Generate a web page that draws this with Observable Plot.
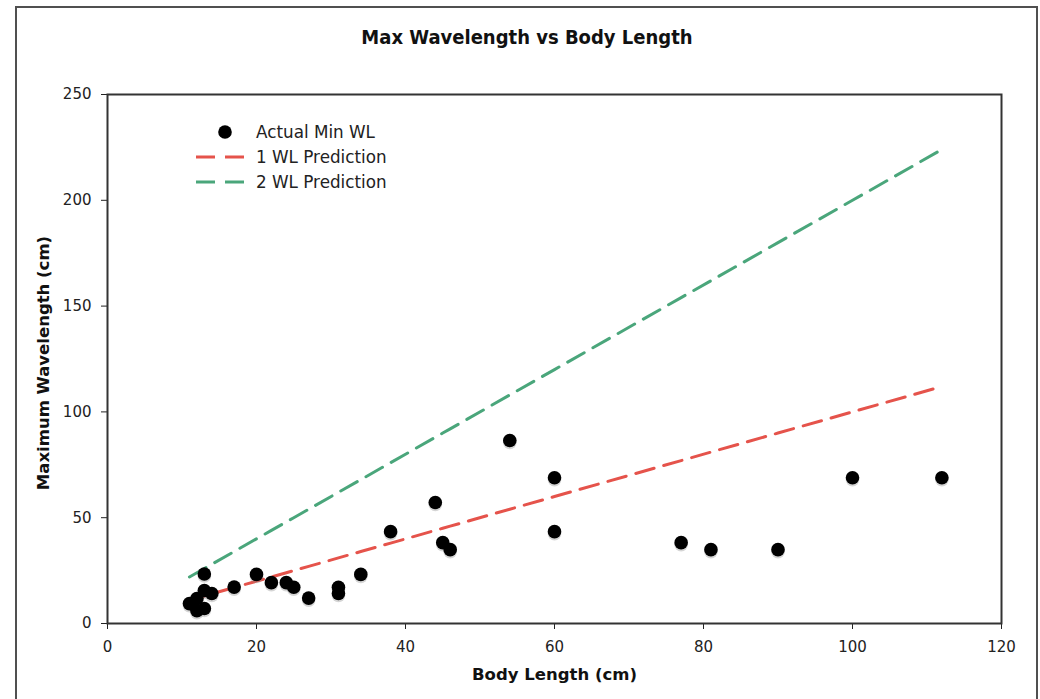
<!DOCTYPE html>
<html>
<head>
<meta charset="utf-8">
<script src="https://cdn.jsdelivr.net/npm/d3@7"></script>
<script src="https://cdn.jsdelivr.net/npm/@observablehq/plot@0.6"></script>
<style>
  html, body { margin: 0; padding: 0; background: #fff; }
  #wrap { position: relative; width: 1040px; height: 699px; overflow: hidden; font-family: "DejaVu Sans", Verdana, sans-serif; }
  #border { position: absolute; left: 15px; top: 6px; width: 1023px; height: 720px; border: 2px solid #505050; box-sizing: border-box; }
  #title { position: absolute; left: 16px; width: 1022px; top: 25px; text-align: center; font-family: "DejaVu Sans Condensed", "DejaVu Sans", sans-serif; font-weight: bold; font-size: 20px; color: #111; }
  #chart { position: absolute; left: 0; top: 60px; }
  #legend { position: absolute; left: 194px; top: 119px; font-size: 16.8px; color: #222; }
  #legend .row { display: flex; align-items: center; height: 25px; }
  #legend svg { width: 56px; height: 20px; margin-right: 6px; }
</style>
</head>
<body>
<div id="wrap">
  <div id="border"></div>
  <div id="title">Max Wavelength vs Body Length</div>
  <div id="chart"></div>
  <div id="legend"></div>
</div>
<script>
// Actual minimum wavelength observations
const bodyLength = [11, 12, 12, 13, 13, 13, 14, 17, 20, 22, 24, 25, 27, 31, 31, 34, 38, 44, 45, 46, 54, 60, 60, 77, 81, 90, 100, 112];
const maxWavelength = [9.4, 11.8, 6.1, 7.1, 15.6, 23.4, 14.2, 17.2, 23.2, 19.3, 19.3, 17.1, 12.0, 17.1, 14.2, 23.2, 43.4, 57.2, 38.2, 34.9, 86.5, 68.9, 43.4, 38.2, 34.9, 34.9, 68.9, 68.9];

// Prediction lines at each body length
const predLength = [11, 12, 13, 14, 17, 20, 22, 24, 25, 27, 31, 34, 38, 44, 45, 46, 54, 60, 77, 81, 90, 100, 112];
const pred1WL = [11, 12, 13, 14, 17, 20, 22, 24, 25, 27, 31, 34, 38, 44, 45, 46, 54, 60, 77, 81, 90, 100, 112];
const pred2WL = [22, 24, 26, 28, 34, 40, 44, 48, 50, 54, 62, 68, 76, 88, 90, 92, 108, 120, 154, 162, 180, 200, 224];

const xTicks = [0, 20, 40, 60, 80, 100, 120];
const yTicks = [0, 50, 100, 150, 200, 250];

const seriesNames = ["Actual Min WL", "1 WL Prediction", "2 WL Prediction"];
const colors = { red: "#e5534b", green: "#4aa67b" };

const points = bodyLength.map((x, i) => ({ x, y: maxWavelength[i] }));
const line1 = predLength.map((x, i) => ({ x, y: pred1WL[i] }));
const line2 = predLength.map((x, i) => ({ x, y: pred2WL[i] }));

const chart = Plot.plot({
  width: 1040,
  height: 639,
  marginLeft: 107,
  marginRight: 39,
  marginTop: 34,
  marginBottom: 76,
  style: { fontFamily: "'DejaVu Sans', Verdana, sans-serif", fontSize: "15px", color: "#222", background: "transparent" },
  x: { domain: [0, 120], ticks: xTicks, label: null },
  y: { domain: [0, 250], ticks: yTicks, label: null },
  marks: [
    Plot.axisX({ ticks: xTicks, tickSize: 6, tickPadding: 12, label: null, stroke: "#222" }),
    Plot.axisY({ ticks: yTicks, tickSize: 6, tickPadding: 10, label: null, stroke: "#222" }),
    Plot.line(line2, { x: "x", y: "y", stroke: colors.green, strokeWidth: 3, strokeDasharray: "19,10" }),
    Plot.line(line1, { x: "x", y: "y", stroke: colors.red, strokeWidth: 3, strokeDasharray: "19,10" }),
    Plot.dot(points, { x: "x", y: "y", r: 6.8, fill: "#888", fillOpacity: 0.35, dy: 2 }),
    Plot.dot(points, { x: "x", y: "y", r: 6.8, fill: "#000" }),
    Plot.frame({ stroke: "#333", strokeWidth: 2 }),
    Plot.text(["Body Length (cm)"], { frameAnchor: "bottom", dy: 51, lineAnchor: "middle", textAnchor: "middle", text: d => d, fontWeight: "bold", fontSize: 16.5, fill: "#111" }),
    Plot.text(["Maximum Wavelength (cm)"], { frameAnchor: "left", dx: -64, dy: 4, rotate: -90, lineAnchor: "middle", textAnchor: "middle", text: d => d, fontWeight: "bold", fontSize: 16.5, fill: "#111" })
  ]
});
document.getElementById("chart").appendChild(chart);

// Legend
const legend = document.getElementById("legend");
const swatches = [
  `<svg viewBox="0 0 56 20"><circle cx="31" cy="10" r="6.8" fill="#000"/></svg>`,
  `<svg viewBox="0 0 56 20"><line x1="2" y1="10" x2="54" y2="10" stroke="${colors.red}" stroke-width="3" stroke-dasharray="19,10"/></svg>`,
  `<svg viewBox="0 0 56 20"><line x1="2" y1="10" x2="54" y2="10" stroke="${colors.green}" stroke-width="3" stroke-dasharray="19,10"/></svg>`
];
seriesNames.forEach((name, i) => {
  const row = document.createElement("div");
  row.className = "row";
  row.innerHTML = swatches[i] + `<span>${name}</span>`;
  legend.appendChild(row);
});
</script>
</body>
</html>
